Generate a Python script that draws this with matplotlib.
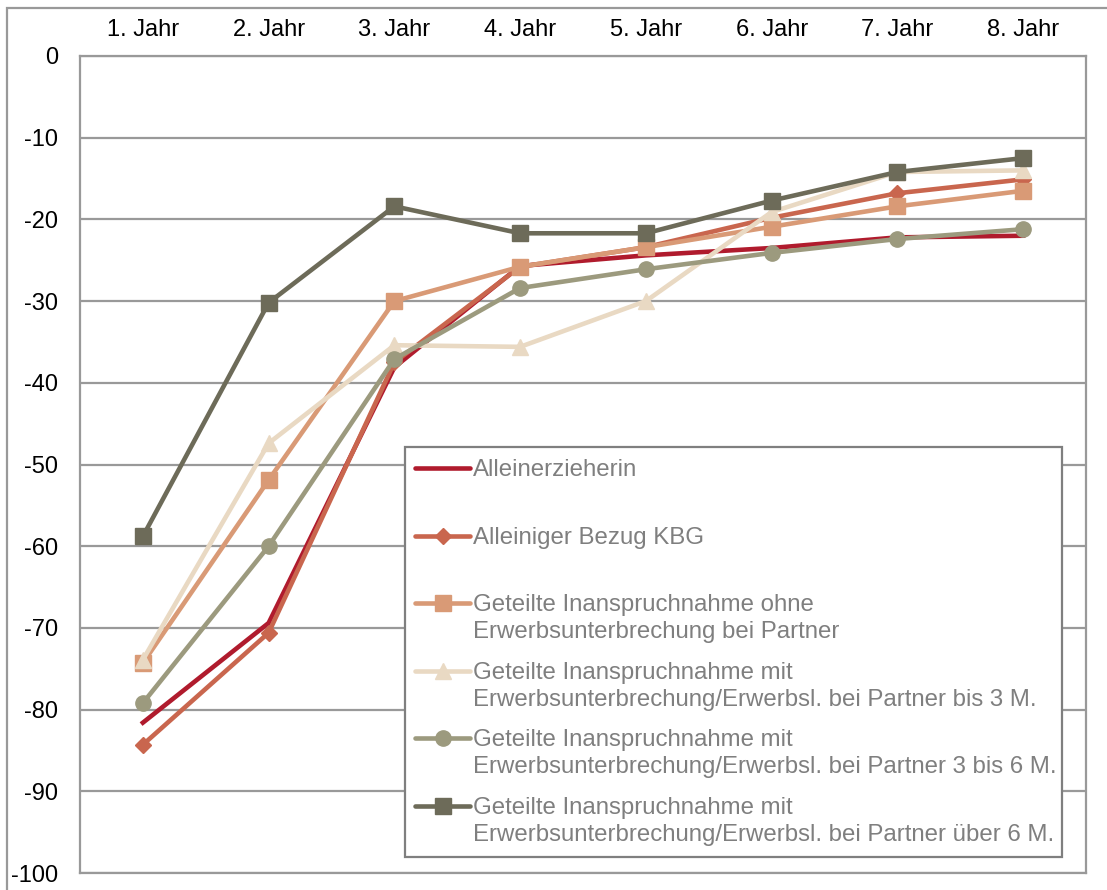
import numpy as np
import matplotlib
matplotlib.use('Agg')
import matplotlib.pyplot as plt
from matplotlib.lines import Line2D
from matplotlib.patches import Rectangle

plt.rcParams['font.family'] = ['Liberation Sans', 'DejaVu Sans']
plt.rcParams['axes.unicode_minus'] = False

# Data
years = ['1. Jahr', '2. Jahr', '3. Jahr', '4. Jahr', '5. Jahr', '6. Jahr', '7. Jahr', '8. Jahr']
alleinerzieherin = [-81.6, -69.4, -38.1, -25.7, -24.4, -23.5, -22.2, -22.0]
alleiniger_kbg = [-84.3, -70.6, -37.5, -25.8, -23.4, -19.8, -16.8, -15.1]
geteilt_ohne = [-74.3, -51.9, -30.0, -25.8, -23.4, -20.9, -18.4, -16.5]
geteilt_bis3 = [-73.9, -47.4, -35.4, -35.6, -30.0, -19.1, -14.2, -14.0]
geteilt_3bis6 = [-79.2, -60.0, -37.1, -28.4, -26.1, -24.1, -22.4, -21.2]
geteilt_ueber6 = [-58.8, -30.2, -18.4, -21.7, -21.7, -17.7, -14.2, -12.5]

labels = [
    'Alleinerzieherin',
    'Alleiniger Bezug KBG',
    'Geteilte Inanspruchnahme ohne\nErwerbsunterbrechung bei Partner',
    'Geteilte Inanspruchnahme mit\nErwerbsunterbrechung/Erwerbsl. bei Partner bis 3 M.',
    'Geteilte Inanspruchnahme mit\nErwerbsunterbrechung/Erwerbsl. bei Partner 3 bis 6 M.',
    'Geteilte Inanspruchnahme mit\nErwerbsunterbrechung/Erwerbsl. bei Partner über 6 M.',
]
series = [alleinerzieherin, alleiniger_kbg, geteilt_ohne, geteilt_bis3, geteilt_3bis6, geteilt_ueber6]
colors = ['#B01B2D', '#C9664E', '#D99A76', '#E9D9C3', '#9C9A7E', '#6D6B59']
markers = [None, 'D', 's', '^', 'o', 's']
msizes = [0, 8, 11, 11, 11, 11]

W, H = 1107, 890
fig = plt.figure(figsize=(W / 100, H / 100), dpi=100)
ax = fig.add_axes([80 / W, 1 - 873 / H, (1086 - 80) / W, (873 - 56) / H])

x = np.arange(len(years))
for vals, c, m, ms in zip(series, colors, markers, msizes):
    ax.plot(x, vals, color=c, lw=3.3, marker=m, markersize=ms,
            markeredgecolor=c, markerfacecolor=c, solid_joinstyle='round')

ax.set_xlim(-0.5, len(years) - 0.5)
ax.set_ylim(-100, 0)
ax.set_yticks(np.arange(-100, 1, 10))
ax.set_xticks(x)
ax.set_xticklabels(years)
ax.xaxis.tick_top()
ax.tick_params(axis='x', length=0, pad=11, labelsize=17)
ax.tick_params(axis='y', length=0, pad=16, labelsize=17)
ax.yaxis.grid(True, color='#999999', lw=1.6)
ax.set_axisbelow(True)
for sp in ax.spines.values():
    sp.set_color('#999999')
    sp.set_linewidth(1.6)

# outer frame of the figure
fig.patches.append(Rectangle((7 / W, -0.05), 1.2, 1 - 8 / H + 0.05, transform=fig.transFigure,
                             fill=False, edgecolor='#999999', lw=1.6))

# legend box, drawn by hand so handles line up with the first text line
def fx(px):
    return px / W

def fy(py):
    return 1 - py / H

fig.patches.append(Rectangle((fx(405), fy(857)), fx(1062) - fx(405), fy(447) - fy(857),
                             transform=fig.transFigure, facecolor='white',
                             edgecolor='#7F7F7F', lw=1.6, zorder=5))
slot_top = 468
slot_step = 67.6
for i, (lab, c, m, ms) in enumerate(zip(labels, colors, markers, msizes)):
    yy = slot_top + i * slot_step
    fig.add_artist(Line2D([fx(415), fx(470)], [fy(yy), fy(yy)], transform=fig.transFigure,
                          color=c, lw=3.3, zorder=6, solid_capstyle='round'))
    if m is not None:
        fig.add_artist(Line2D([fx(442.5)], [fy(yy)], transform=fig.transFigure, color=c,
                              marker=m, markersize=ms, markeredgecolor=c, zorder=6, lw=0))
    fig.text(fx(473), fy(yy - 9), lab, color='#7F7F7F', fontsize=17.3, va='top',
             ha='left', linespacing=1.28, zorder=7)

fig.savefig('out.png', dpi=100)
